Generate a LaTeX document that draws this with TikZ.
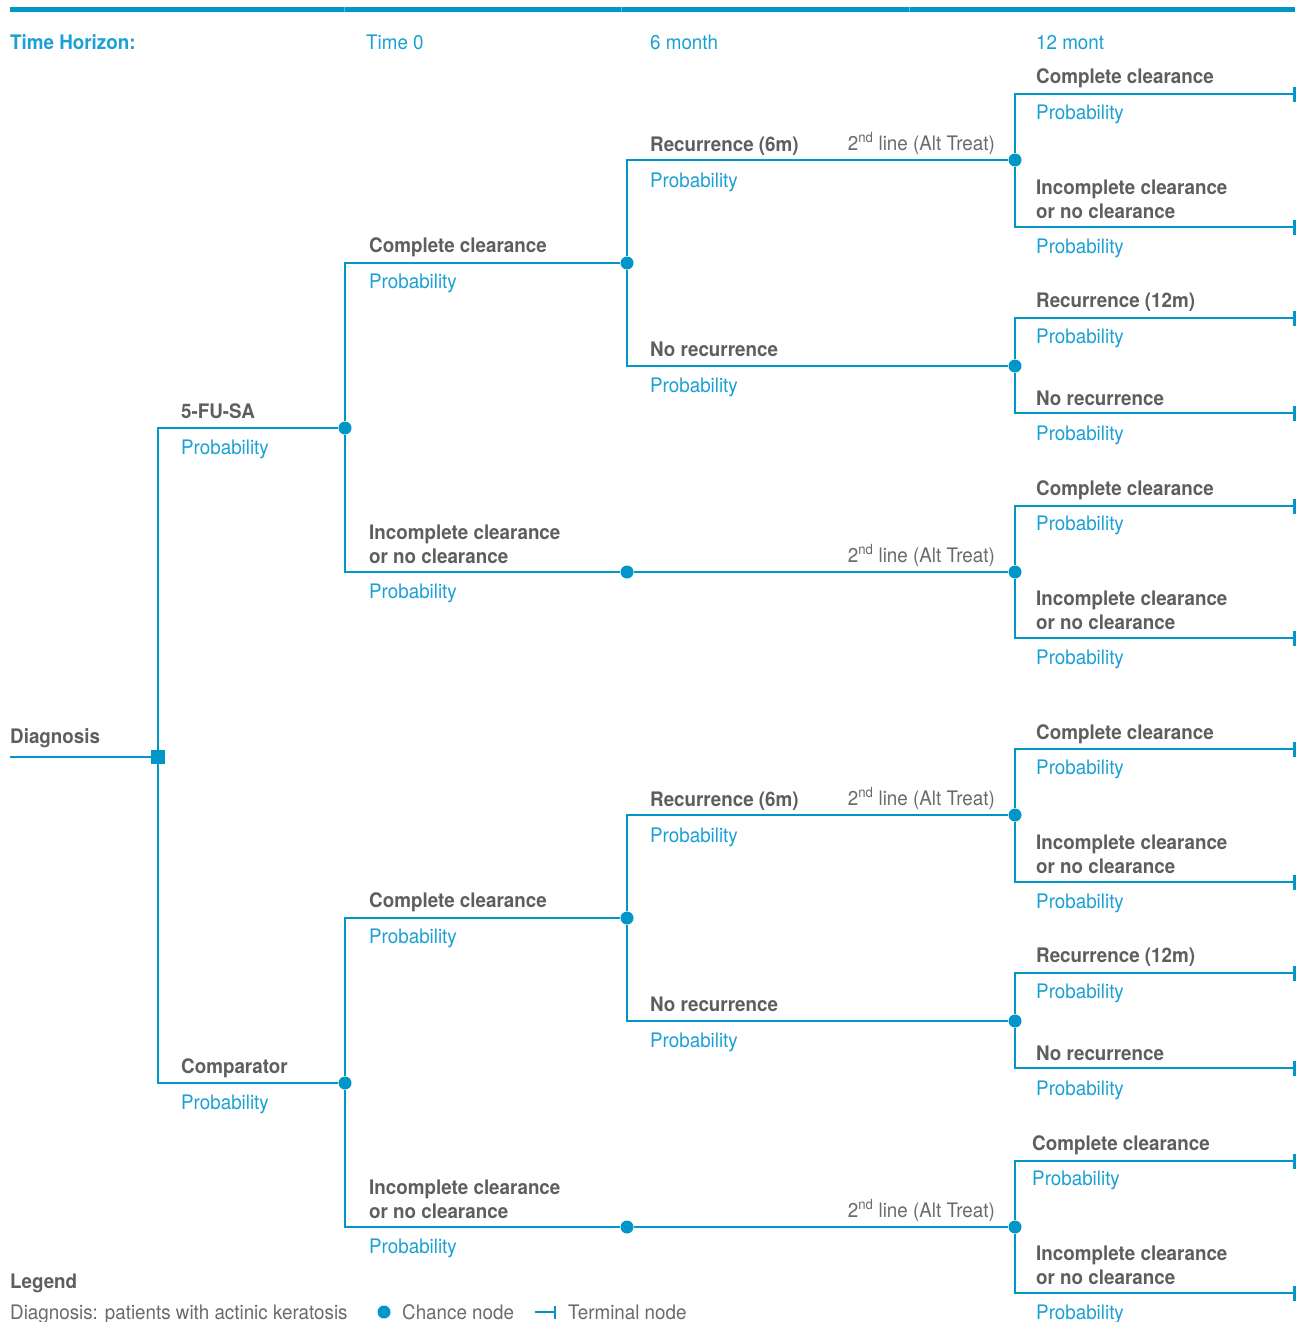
\documentclass[tikz,border=0pt]{standalone}
\usepackage{fontspec}
\setmainfont{TeX Gyre Heros}[FakeStretch=0.94]
\usetikzlibrary{arrows.meta}
\definecolor{tblue}{HTML}{0096C8}
\definecolor{pblue}{HTML}{1AA0D4}
\definecolor{tgrey}{HTML}{5E5E5E}
\definecolor{lgrey}{HTML}{6A6A6A}
\tikzset{
  ln/.style={draw=tblue,line width=1.5pt},
  tick/.style={draw=tblue,line width=3pt},
  chance/.style={circle,fill=tblue,inner sep=0pt,minimum size=13pt},
  decision/.style={rectangle,fill=tblue,inner sep=0pt,minimum size=14pt},
  lbl/.style={anchor=base west,inner sep=0pt,text=tgrey,font=\fontsize{20}{24}\selectfont\bfseries,align=left},
  prob/.style={anchor=base west,inner sep=0pt,text=pblue,font=\fontsize{20}{24}\selectfont},
  alt/.style={anchor=base east,inner sep=0pt,text=lgrey,font=\fontsize{20}{24}\selectfont},
  hdr/.style={anchor=base west,inner sep=0pt,text=pblue,font=\fontsize{20}{24}\selectfont},
  leg/.style={anchor=base west,inner sep=0pt,text=lgrey,font=\fontsize{20}{24}\selectfont},
}
\newcommand{\sndline}{2\textsuperscript{nd} line (Alt Treat)}
\newcommand{\termtick}[1]{\draw[tick] ([yshift=7.5pt]#1) -- ([yshift=-7.5pt]#1);}
\begin{document}
\begin{tikzpicture}[x=1pt,y=-1pt]
\useasboundingbox (0,0) rectangle (1299,1322);
% top bar
\draw[tblue,line width=5pt] (10,10) -- (1295,10);
\foreach \bx in {344,621,909} \draw[white,opacity=0.35,line width=0.5pt] (\bx,7.5) -- (\bx,12.5);
% header
\node[hdr,font=\fontsize{20}{24}\selectfont\bfseries] (th) at (10,49) {Time Horizon:};
\node[hdr] (t0) at (366,49) {Time 0};
\node[hdr] (t6) at (650,49) {6 month};
\node[hdr] (t12) at (1036,49) {12 mont};
% diagnosis
\coordinate (start) at (10,757);
\node[decision] (dec) at (158,757) {};
\node[lbl] (diag) at (10,743) {Diagnosis};
\draw[ln] (start) -- (dec);
% two arms
\foreach \h/\o/\xa/\arm in {a/0/1036/5-FU-SA, b/655/1032/Comparator}{
  \node[chance] (\h arm) at (345,{\o+428}) {};
  \draw[ln] (dec) |- (\h arm);
  \node[lbl] (\h armL) at (181,{\o+418}) {\arm};
  \node[prob] (\h armP) at (181,{\o+454}) {Probability};
  % complete clearance (time 0)
  \node[chance] (\h cc) at (627,{\o+263}) {};
  \draw[ln] (\h arm) |- (\h cc);
  \node[lbl] at (369,{\o+252}) {Complete clearance};
  \node[prob] at (369,{\o+288}) {Probability};
  % incomplete (time 0)
  \node[chance] (\h ic) at (627,{\o+572}) {};
  \draw[ln] (\h arm) |- (\h ic);
  \node[lbl] at (369,{\o+563}) {Incomplete clearance\\or no clearance};
  \node[prob] at (369,{\o+598}) {Probability};
  % recurrence 6m
  \node[chance] (\h rc) at (1015,{\o+160}) {};
  \draw[ln] (\h cc) |- (\h rc);
  \node[lbl] at (650,{\o+151}) {Recurrence (6m)};
  \node[alt] at (995,{\o+150}) {\sndline};
  \node[prob] at (650,{\o+187}) {Probability};
  % no recurrence
  \node[chance] (\h nr) at (1015,{\o+366}) {};
  \draw[ln] (\h cc) |- (\h nr);
  \node[lbl] at (650,{\o+356}) {No recurrence};
  \node[prob] at (650,{\o+392}) {Probability};
  % incomplete -> alt treat
  \node[chance] (\h al) at (1015,{\o+572}) {};
  \draw[ln] (\h ic) -- (\h al);
  \node[alt] at (995,{\o+562}) {\sndline};
  % terminals block 1
  \coordinate (\h t1) at (1294,{\o+94});
  \coordinate (\h t2) at (1294,{\o+227});
  \draw[ln] (\h rc) |- (\h t1);
  \draw[ln] (\h rc) |- (\h t2);
  \termtick{\h t1}\termtick{\h t2}
  \node[lbl] at (1036,{\o+84}) {Complete clearance};
  \node[prob] at (1036,{\o+119}) {Probability};
  \node[lbl] at (1036,{\o+218}) {Incomplete clearance\\or no clearance};
  \node[prob] at (1036,{\o+253}) {Probability};
  % terminals block 2
  \coordinate (\h t3) at (1294,{\o+318});
  \coordinate (\h t4) at (1294,{\o+413});
  \draw[ln] (\h nr) |- (\h t3);
  \draw[ln] (\h nr) |- (\h t4);
  \termtick{\h t3}\termtick{\h t4}
  \node[lbl] at (1036,{\o+307}) {Recurrence (12m)};
  \node[prob] at (1036,{\o+343}) {Probability};
  \node[lbl] at (1036,{\o+405}) {No recurrence};
  \node[prob] at (1036,{\o+440}) {Probability};
  % terminals block 3
  \coordinate (\h t5) at (1294,{\o+506});
  \coordinate (\h t6) at (1294,{\o+638});
  \draw[ln] (\h al) |- (\h t5);
  \draw[ln] (\h al) |- (\h t6);
  \termtick{\h t5}\termtick{\h t6}
  \node[lbl] at (\xa,{\o+495}) {Complete clearance};
  \node[prob] at (\xa,{\o+530}) {Probability};
  \node[lbl] at (1036,{\o+629}) {Incomplete clearance\\or no clearance};
  \node[prob] at (1036,{\o+664}) {Probability};
}
% legend
\node[lbl] (leg) at (10,1288) {Legend};
\node[leg] (legd) at (10,1319) {Diagnosis: patients with actinic keratosis};
\node[chance] (legc) at (384,1312) {};
\node[leg] (legct) at (402,1319) {Chance node};
\coordinate (lts) at (535,1312);
\coordinate (lte) at (555,1312);
\draw[ln] (lts) -- (lte);
\draw[tick,line width=2.5pt] ([yshift=6.5pt]lte) -- ([yshift=-6.5pt]lte);
\node[leg] (legtt) at (568,1319) {Terminal node};
\end{tikzpicture}
\end{document}
